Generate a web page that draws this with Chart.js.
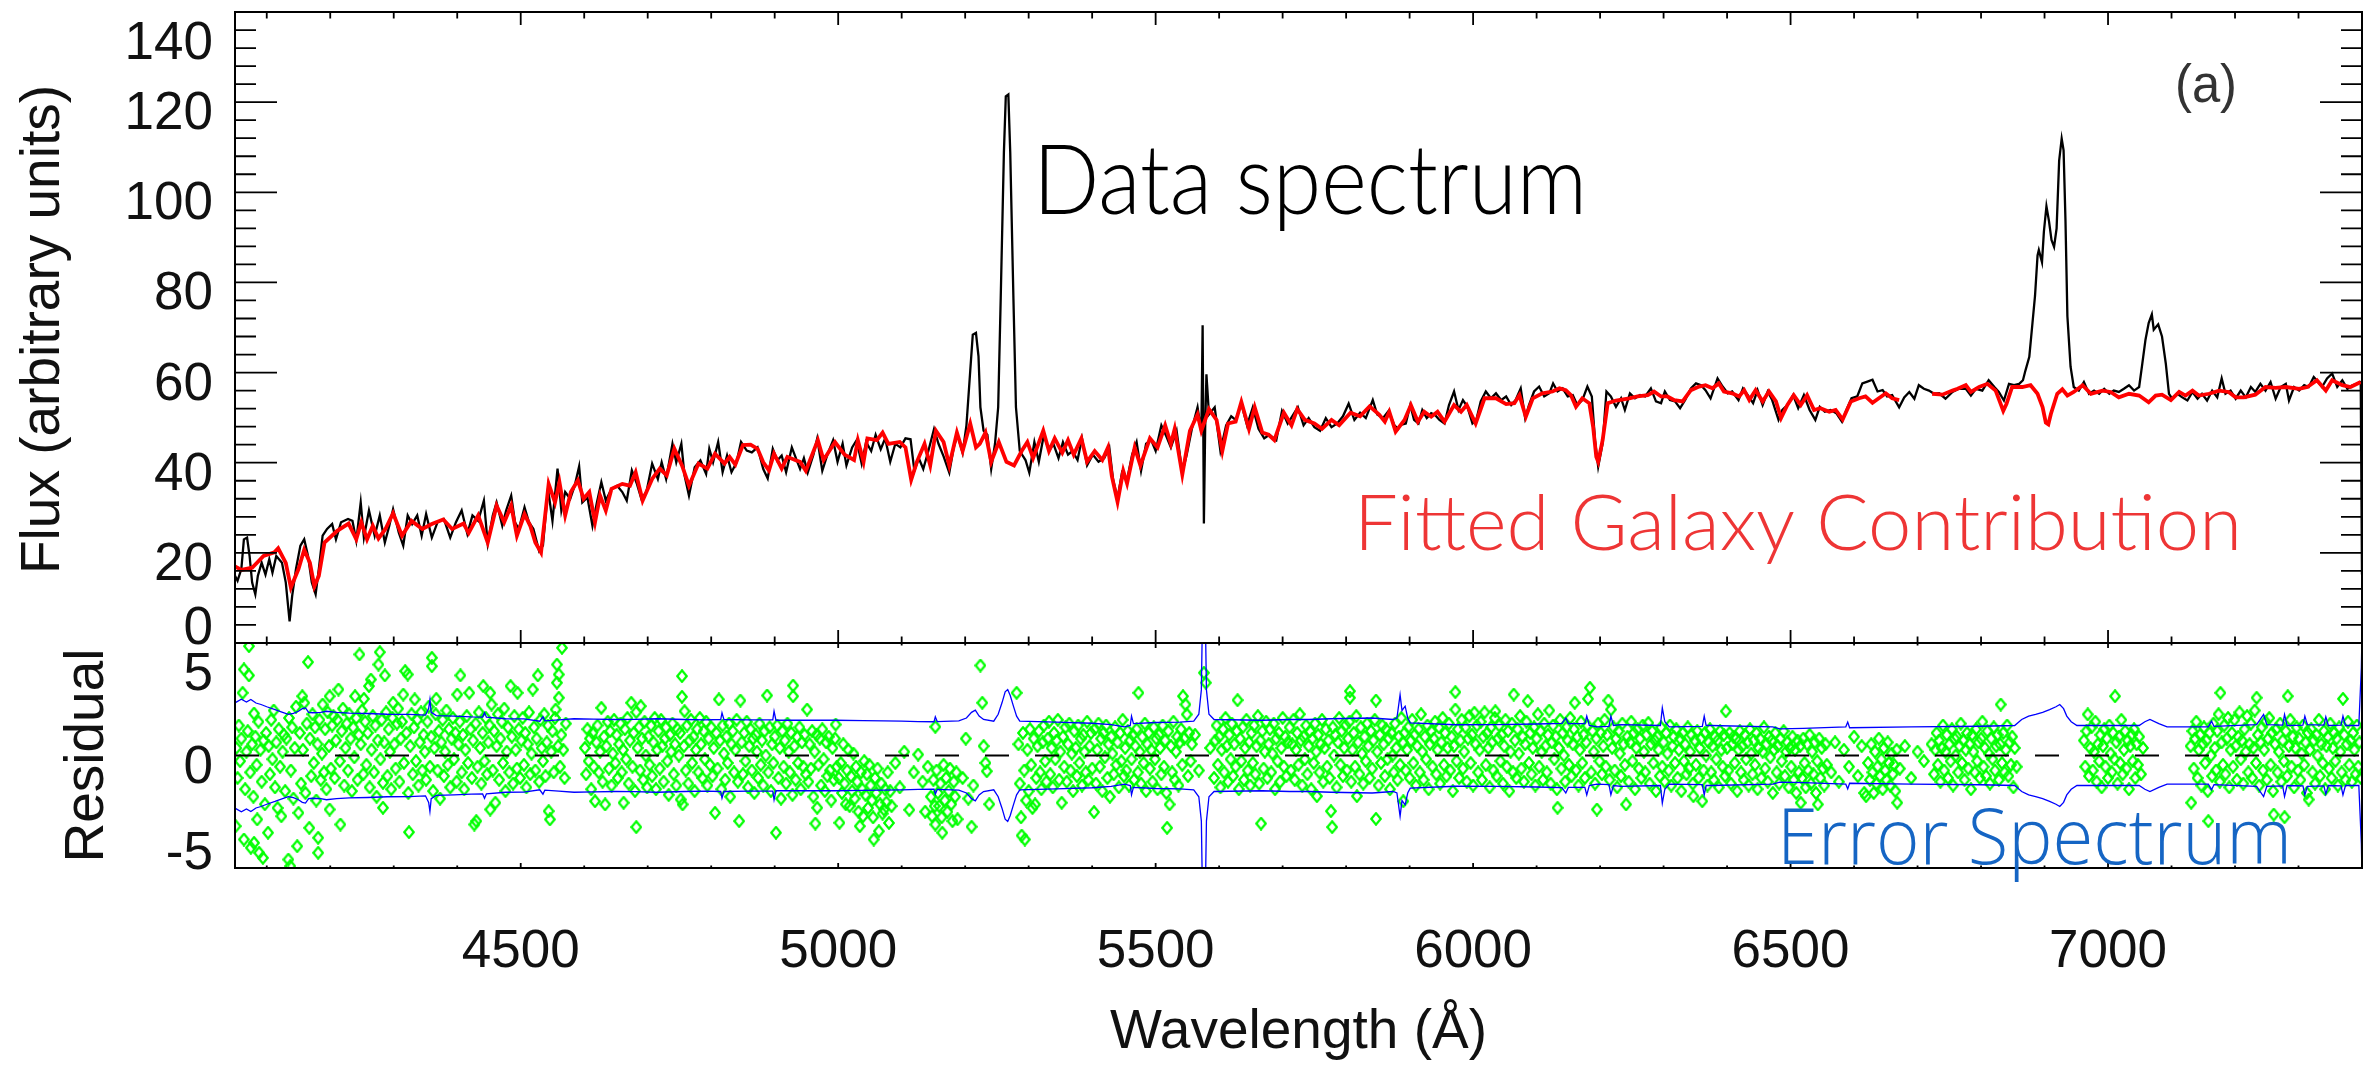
<!DOCTYPE html>
<html>
<head>
<meta charset="utf-8">
<title>Spectrum fit</title>
<script src="https://cdn.jsdelivr.net/npm/chart.js@4.4.1/dist/chart.umd.min.js"></script>
<style>
  html, body { margin: 0; padding: 0; background: #fff; }
  #wrap { width: 2374px; height: 1066px; position: relative; }
</style>
</head>
<body>
<div id="wrap"><canvas id="spec"></canvas></div>
<script>
// axis ranges and tick labels
const waveRange = [4050, 7400];
const fluxRange = [0, 140];
const residRange = [-6, 6];
const xTickLabels = [4500, 5000, 5500, 6000, 6500, 7000];
const fluxTickLabels = [0, 20, 40, 60, 80, 100, 120, 140];
const residTickLabels = [-5, 0, 5];

// observed spectrum [wavelength, flux]
const dataSpectrum = [
  [4050,14.9],[4054,13.8],[4060,16.4],[4064,23],[4069,23.4],[4073,19.3],[4077,13.4],[4082,10.8],[4086,14.9],[4092,17.8],
  [4098,15.2],[4104,18.6],[4109,15.6],[4115,19.3],[4124,17.8],[4130,13.4],[4136,4.8],[4140,10.4],[4146,16.4],[4153,21.6],
  [4159,23],[4165,19.3],[4171,13.4],[4177,10.8],[4182,16.4],[4188,23.8],[4195,25.3],[4203,26.4],[4209,23],[4217,26.8],
  [4228,27.5],[4235,27.1],[4241,22.7],[4248,31.2],[4253,23.4],[4261,29.4],[4270,23.8],[4278,28.3],[4286,22.3],[4293,26],
  [4299,29.7],[4308,24.5],[4315,21.6],[4322,28.3],[4329,26.4],[4337,28.3],[4344,23.8],[4351,28.6],[4360,23.4],[4369,26.8],
  [4379,27.5],[4389,23.4],[4398,26.8],[4407,29.4],[4416,24.2],[4424,28.3],[4433,27.1],[4442,31.6],[4448,22.1],[4456,28.3],
  [4462,31.2],[4471,26],[4477,29.4],[4485,32.7],[4491,26.8],[4497,25.3],[4506,30.1],[4513,26.8],[4520,25.3],[4529,20.4],
  [4535,21.6],[4543,34.2],[4550,27.1],[4558,38.7],[4564,29.4],[4570,33.5],[4578,32],[4585,34.9],[4592,39.2],[4597,31.2],
  [4605,32.3],[4613,26],[4620,31.2],[4627,35.7],[4634,31.6],[4643,34.2],[4652,34.9],[4660,33.5],[4667,31.6],[4675,38.3],
  [4683,35.3],[4690,32],[4698,33.5],[4707,39.8],[4716,36.4],[4722,40.1],[4729,36.4],[4739,44.2],[4745,40.1],[4753,44.2],
  [4758,37.2],[4765,32.7],[4774,39],[4783,40.5],[4792,37.5],[4797,43.1],[4803,40.1],[4811,44.6],[4818,37.9],[4825,41.6],
  [4832,37.9],[4840,40.1],[4847,44.6],[4856,42.7],[4864,42.3],[4873,43.4],[4882,38.6],[4889,36.5],[4897,43.1],[4904,40.5],
  [4911,41.6],[4918,37.9],[4927,43.4],[4934,40.8],[4940,38.6],[4946,41],[4952,37.8],[4961,41.8],[4967,45.4],[4975,38.2],
  [4983,41.8],[4992,45],[4999,40.2],[5007,44.2],[5013,39.4],[5022,43.4],[5029,45],[5037,39.8],[5044,44.6],[5052,42.6],
  [5059,46.2],[5067,43],[5074,45.4],[5082,40.2],[5090,44.2],[5098,43.4],[5106,45.4],[5114,45.2],[5120,38.2],[5127,41],
  [5134,38.6],[5142,42.6],[5151,47.5],[5158,44.2],[5166,41.4],[5175,37.8],[5182,43.4],[5188,46.2],[5196,42.2],[5202,48.3],
  [5208,60.4],[5212,68.4],[5217,68.8],[5221,63.6],[5224,52.3],[5229,47.1],[5235,46.2],[5241,38.6],[5247,44.2],[5252,52.3],
  [5256,76.5],[5261,108.8],[5264,121.3],[5268,121.7],[5271,108.8],[5276,76.5],[5280,52.3],[5286,42.6],[5295,40.6],[5301,37.8],
  [5309,44.6],[5316,40.2],[5324,46.2],[5332,42.6],[5339,44.2],[5347,41],[5354,44.6],[5362,41.8],[5369,42.6],[5377,40.6],
  [5384,45.4],[5392,39.4],[5401,41.8],[5410,40.2],[5419,41],[5427,43.4],[5433,36.2],[5440,32.1],[5447,37.8],[5455,36.2],
  [5463,41.8],[5470,44.6],[5477,38.2],[5485,44.2],[5493,45],[5500,42.6],[5509,48.3],[5517,45.8],[5524,43.4],[5533,47.1],
  [5542,37.8],[5549,41.8],[5557,47.5],[5566,52.3],[5572,46.7],[5574,70.5],[5576,26.5],[5578,47.5],[5580,59.6],[5584,50.7],
  [5593,52.3],[5602,42.6],[5611,48.3],[5619,50.3],[5626,49.5],[5635,53.1],[5644,48.3],[5653,52.3],[5662,47.5],[5671,45.4],
  [5679,46.2],[5690,45],[5699,51.5],[5708,48.7],[5717,50.7],[5724,52.3],[5733,48.3],[5741,49.9],[5750,47.9],[5759,47.1],
  [5768,49.9],[5777,47.9],[5786,48.7],[5795,50.3],[5804,53.1],[5813,49.5],[5822,51.1],[5831,49.9],[5842,53.9],[5849,50.7],
  [5858,49.9],[5867,51.5],[5876,48.3],[5882,47.5],[5886,48.4],[5894,48.7],[5901,52.8],[5907,49.5],[5914,48.7],[5920,51.7],
  [5927,49.9],[5934,51],[5940,50.6],[5947,49.5],[5955,48.7],[5962,52.8],[5970,55.8],[5977,51.7],[5984,53.9],[5991,52.4],
  [5999,48.7],[6005,49.5],[6012,53.6],[6020,55.8],[6028,54.3],[6036,55.4],[6044,53.9],[6052,54.7],[6060,52.8],[6067,53.9],
  [6075,56.5],[6082,49.9],[6088,52.8],[6096,55.8],[6104,56.9],[6112,54.7],[6120,55.4],[6126,57.6],[6133,55.8],[6141,56.5],
  [6149,54.7],[6157,55],[6164,52.8],[6172,53.9],[6180,56.9],[6187,54.7],[6192,45],[6197,39.1],[6204,44.3],[6210,55.8],
  [6217,54.7],[6225,52.4],[6233,54.3],[6239,51.7],[6247,55.4],[6255,54.3],[6263,55],[6271,54.7],[6280,56.5],[6288,53.6],
  [6296,53.2],[6302,55.8],[6310,53.9],[6318,53.6],[6326,52.1],[6334,53.9],[6343,56.5],[6351,57.6],[6359,57.2],[6366,56.1],
  [6374,54.3],[6385,58.7],[6393,56.9],[6401,55.4],[6408,55.8],[6418,53.9],[6425,56.5],[6434,54.7],[6441,53.2],[6448,56.1],
  [6456,52.8],[6464,55.8],[6471,53.9],[6481,49.5],[6487,51.7],[6495,52.8],[6504,55],[6512,52.1],[6521,55],[6530,51.7],
  [6539,49.5],[6546,52.4],[6554,51.3],[6563,51.7],[6572,51],[6581,49.1],[6588,51.7],[6596,54.3],[6605,54.7],[6613,57.6],
  [6621,58],[6629,58.4],[6637,55.8],[6645,56.1],[6652,54.7],[6660,55],[6671,52.3],[6679,54.5],[6687,55.7],[6695,54.2],
  [6702,57.2],[6710,56.4],[6718,56],[6726,55.3],[6734,55.4],[6744,54.2],[6755,55.7],[6765,56.4],[6776,56.4],[6784,54.9],
  [6792,56.4],[6802,56],[6812,58.3],[6821,56.8],[6828,55.7],[6836,53.8],[6844,57.5],[6852,57.2],[6860,57.5],[6866,58.3],
  [6870,60.5],[6876,63.5],[6881,71],[6885,77],[6889,86],[6891,87.2],[6896,84.5],[6899,91.3],[6903,96.9],[6907,93.6],
  [6911,89.4],[6915,87.9],[6919,92],[6923,107],[6927,111.9],[6930,109.3],[6933,93.6],[6936,72.5],[6941,61.3],[6946,56.8],
  [6954,56],[6962,57.9],[6970,55.3],[6978,56],[6986,55.3],[6994,56.4],[7002,55.3],[7009,56],[7017,55.7],[7025,56.4],
  [7033,57.2],[7041,56],[7049,56.8],[7054,62],[7059,67.3],[7064,71],[7069,72.9],[7072,69.5],[7079,70.7],[7085,68],
  [7091,62],[7096,55.3],[7101,54.2],[7109,55.3],[7117,54.5],[7125,53.8],[7133,55.7],[7141,54.2],[7148,55.3],[7156,53.8],
  [7164,56],[7172,54.5],[7179,58.7],[7185,55.3],[7193,56],[7201,54.2],[7209,56],[7217,54.5],[7225,56.8],[7232,55.7],
  [7240,57.5],[7248,56],[7256,57.9],[7264,54.2],[7272,56.8],[7280,57.5],[7285,53.8],[7293,56.8],[7301,56],[7309,57.2],
  [7316,56.8],[7324,59],[7331,57.9],[7337,56.8],[7345,58.7],[7353,59.8],[7361,56.8],[7369,58.3],[7377,56.4],[7385,57.2],
  [7392,57.5],[7398,57.9],[7400,15.2]
];

// fitted galaxy model [wavelength, flux]; null marks the unfitted stretch
const galaxyModel = [
  [4050,17],[4060,16.2],[4077,16.7],[4095,19.3],[4112,20.1],[4118,21],[4130,17.8],[4138,12.3],[4150,16.4],[4159,20.7],
  [4168,17.8],[4175,12.6],[4182,14.9],[4191,22.3],[4211,24.9],[4229,26.5],[4241,23],[4249,26.8],[4258,23],[4267,26],
  [4276,23.2],[4287,25.3],[4299,28.8],[4313,23.8],[4328,27.1],[4345,25.3],[4360,26.4],[4378,27.4],[4392,25.3],[4410,26.5],
  [4418,24.4],[4433,28.3],[4448,22.3],[4462,30.5],[4474,26.8],[4485,30.5],[4494,23.8],[4506,28.6],[4515,26],[4523,22.3],
  [4532,20.1],[4544,35.3],[4554,31.2],[4561,35.7],[4570,28.3],[4579,33.5],[4590,36.1],[4599,32],[4608,33.5],[4617,26.8],
  [4625,32.7],[4634,29.4],[4643,34.2],[4660,35.3],[4672,34.9],[4681,37.9],[4692,31.6],[4707,36.4],[4719,38.7],[4730,37.2],
  [4742,43.1],[4754,39.4],[4765,34.9],[4780,39.8],[4794,38.7],[4806,42],[4821,39.8],[4829,41.3],[4838,39.6],[4850,43.9],
  [4862,44],[4873,43.1],[4882,40.1],[4891,38.3],[4899,42],[4911,38.7],[4920,41.3],[4934,40.5],[4940,40.2],[4949,38.2],
  [4968,45],[4977,40.6],[4995,44.6],[5010,41.8],[5025,40.6],[5031,45],[5040,40.2],[5046,45.4],[5061,45],[5070,46.7],
  [5079,44.2],[5097,44.6],[5106,43.4],[5115,36.2],[5124,40.2],[5136,44.2],[5145,39.4],[5154,47.1],[5166,44.6],[5175,39.4],
  [5187,46.7],[5196,42.6],[5208,48.7],[5217,43.4],[5223,44.2],[5232,46.7],[5241,40.2],[5253,44.6],[5265,40.2],[5277,39.4],
  [5289,42.6],[5298,44.6],[5307,41],[5323,47.1],[5332,42.6],[5341,45.4],[5353,42.2],[5362,45],[5371,41.8],[5383,45.4],
  [5392,40.2],[5404,42.6],[5416,40.6],[5425,43.4],[5431,37],[5440,31.3],[5449,38.2],[5455,35.4],[5467,43.4],[5476,39.4],
  [5491,45.4],[5503,43.4],[5515,48.3],[5524,44.2],[5530,47.5],[5542,37.4],[5554,47.1],[5566,50.7],[5572,47.1],[5584,51.9],
  [5596,49.5],[5605,42.6],[5614,48.7],[5626,49.1],[5635,53.5],[5647,47.5],[5656,52.3],[5668,46.7],[5678,46.2],[5687,45],
  [5702,51.1],[5714,48.3],[5723,51.9],[5735,49.5],[5750,48.7],[5762,47.5],[5777,49.5],[5789,48.3],[5807,51.1],[5822,50.3],
  [5837,52.5],[5852,50.7],[5861,49.1],[5868,51.3],[5878,46.9],[5892,49.5],[5902,52.8],[5913,49.1],[5923,51.3],[5934,50.2],
  [5944,51.3],[5955,49.1],[5970,52.8],[5981,51.3],[5990,52.8],[6004,48.7],[6018,54.3],[6036,54.3],[6052,53],[6065,53.2],
  [6073,55],[6083,50.2],[6094,54.3],[6109,55.4],[6125,55.8],[6136,56.5],[6146,56.1],[6154,55],[6162,52.4],[6172,54.3],
  [6183,53.2],[6189,48],[6194,41.3],[6197,40.2],[6204,45],[6212,53.2],[6225,53.8],[6246,54.3],[6259,54.7],[6275,55],
  [6285,55.8],[6296,54.7],[6306,54.7],[6317,53.9],[6330,53.6],[6343,56.1],[6356,56.9],[6366,57.2],[6377,56.5],[6387,57.6],
  [6395,55.8],[6408,55.4],[6419,54.7],[6427,56.1],[6435,53.9],[6445,56.1],[6456,53.6],[6466,55.8],[6477,53.6],[6485,49.9],
  [6495,52.8],[6505,55],[6516,52.8],[6526,55],[6537,51.7],[6547,52.1],[6561,51.3],[6571,51.7],[6582,49.6],[6595,53.6],
  [6608,54.3],[6618,54.7],[6629,53.3],[6639,54.3],[6650,55.4],[6660,54.3],[6671,53.9],[6697,null],[6723,55.3],[6739,55.1],
  [6755,56],[6763,56.4],[6776,57.2],[6784,55.7],[6797,56.8],[6810,57.5],[6823,56],[6831,53],[6835,51.5],[6840,53],
  [6849,56.8],[6865,56.8],[6878,57.2],[6889,55.3],[6897,52.3],[6902,48.9],[6906,48.5],[6910,50.8],[6920,55.3],[6928,56.3],
  [6936,54.9],[6946,55.7],[6960,57.2],[6973,55.3],[6991,56],[7004,55.7],[7017,54.5],[7033,55.3],[7049,54.9],[7064,53.4],
  [7075,54.9],[7085,55.1],[7099,53.9],[7112,55.7],[7122,54.9],[7133,56],[7143,54.9],[7159,55.3],[7175,56],[7190,55.7],
  [7201,54.5],[7214,54.5],[7232,55.1],[7248,56.8],[7264,56.6],[7280,56.8],[7301,56.4],[7314,56.8],[7329,58.3],[7343,56],
  [7353,58.3],[7369,57.2],[7382,56.8],[7398,57.9]
];

// 1-sigma error spectrum [wavelength, sigma], drawn as +/- envelope
const errorSpectrum = [
  [4050,2.81],[4060,3.0],[4068,2.85],[4075,2.99],[4083,2.8],[4091,2.72],[4100,2.6],[4113,2.45],[4125,2.3],[4134,2.19],
  [4142,2.25],[4150,2.36],[4156,2.5],[4161,2.54],[4166,2.3],[4172,2.28],[4185,2.3],[4194,2.36],[4210,2.3],[4230,2.26],
  [4259,2.24],[4290,2.2],[4324,2.19],[4350,2.15],[4355,2.5],[4357,2.99],[4359,2.3],[4367,2.13],[4395,2.1],[4422,2.06],
  [4440,2.05],[4443,2.28],[4446,2.04],[4476,1.96],[4505,1.95],[4530,1.83],[4535,2.06],[4538,1.85],[4560,1.9],[4584,1.96],
  [4615,1.94],[4649,1.92],[4680,1.93],[4714,1.96],[4758,1.92],[4790,1.9],[4815,1.92],[4817,2.28],[4820,1.92],[4860,1.9],
  [4897,1.9],[4899,2.36],[4902,1.88],[4950,1.88],[4996,1.88],[5040,1.86],[5072,1.85],[5100,1.83],[5126,1.81],[5151,1.8],
  [5153,2.06],[5156,1.81],[5190,1.85],[5202,2.0],[5210,2.3],[5216,2.42],[5222,2.1],[5229,1.92],[5245,1.83],[5252,2.2],
  [5258,2.81],[5263,3.4],[5267,3.52],[5271,3.2],[5276,2.63],[5281,2.1],[5286,1.83],[5343,1.78],[5400,1.72],[5430,1.65],
  [5451,1.53],[5460,1.6],[5462,2.1],[5465,1.7],[5500,1.76],[5538,1.78],[5560,1.83],[5568,2.2],[5572,3.5],[5574,8],
  [5578,8],[5580,3.5],[5584,2.2],[5592,1.92],[5668,1.88],[5711,1.92],[5742,1.92],[5776,1.96],[5841,2.0],[5874,1.92],
  [5880,2.0],[5885,3.25],[5888,2.4],[5893,2.63],[5897,2.0],[5901,1.74],[5972,1.64],[6037,1.65],[6100,1.68],[6140,1.71],
  [6146,2.0],[6150,1.7],[6176,1.7],[6179,2.1],[6183,1.6],[6195,1.53],[6214,1.55],[6217,2.1],[6221,1.6],[6233,1.65],
  [6295,1.6],[6298,2.54],[6302,1.8],[6309,1.53],[6361,1.55],[6364,2.1],[6367,1.6],[6374,1.6],[6472,1.53],[6483,1.42],
  [6520,1.45],[6587,1.53],[6590,1.78],[6593,1.48],[6690,1.53],[6799,1.56],[6853,1.6],[6864,1.92],[6875,2.1],[6886,2.19],
  [6897,2.3],[6908,2.45],[6918,2.6],[6924,2.72],[6930,2.5],[6935,2.1],[6942,1.8],[6951,1.6],[7049,1.6],[7058,1.8],
  [7066,1.92],[7080,1.7],[7093,1.53],[7158,1.53],[7163,1.83],[7167,1.55],[7234,1.65],[7245,2.19],[7250,1.65],[7275,1.62],
  [7278,2.19],[7282,1.6],[7307,1.62],[7310,2.1],[7314,1.65],[7340,1.62],[7343,2.06],[7347,1.6],[7367,1.62],[7370,2.1],
  [7374,1.6],[7395,1.6],[7399,4.7],[7400,6.5]
];

// fit residuals [wavelength, residual]
const residuals = [
  [4051,-3.77],[4052,0.4],[4054,-1.2],[4056,1.6],[4058,-0.3],[4060,0.9],[4062,3.34],[4064,4.59],[4064,-4.48],[4066,-1.8],
  [4068,0.2],[4070,1.3],[4072,5.83],[4072,4.27],[4074,-0.9],[4075,-4.92],[4077,0.6],[4079,-2.2],[4080,2.24],[4080,-4.66],
  [4082,1.0],[4084,-0.5],[4085,-3.41],[4087,1.8],[4088,-5.19],[4090,0.3],[4092,-1.4],[4094,-5.46],[4095,0.8],[4097,-2.6],
  [4099,1.2],[4102,-4.12],[4103,0.5],[4105,-1.0],[4107,1.9],[4109,-0.2],[4111,2.4],[4113,-1.7],[4115,0.7],[4117,-2.8],
  [4119,1.4],[4121,-0.6],[4123,-3.24],[4125,0.2],[4127,1.1],[4129,-1.9],[4131,0.9],[4134,-5.55],[4135,2.0],[4137,-5.9],
  [4138,-0.8],[4140,1.5],[4142,-2.3],[4144,0.4],[4146,2.6],[4148,-4.84],[4150,-3.06],[4152,1.2],[4154,-1.5],[4156,3.16],
  [4157,0.3],[4159,2.81],[4161,-2.0],[4163,1.7],[4165,4.98],[4167,-3.86],[4168,0.9],[4170,-1.1],[4172,2.2],[4174,-0.4],
  [4176,1.5],[4178,-2.4],[4180,0.6],[4181,-5.19],[4181,-4.39],[4183,1.9],[4185,-1.3],[4187,0.1],[4188,2.72],[4190,-0.9],
  [4192,1.4],[4194,-1.8],[4196,2.3],[4198,0.5],[4199,3.16],[4199,-2.88],[4201,-0.7],[4203,1.6],[4205,2.1],[4207,-1.2],
  [4209,0.8],[4211,1.9],[4213,3.52],[4215,-0.3],[4216,-3.68],[4218,1.3],[4220,2.5],[4222,-1.6],[4224,0.4],[4226,1.7],
  [4228,-0.8],[4230,2.2],[4232,0.9],[4234,-1.9],[4236,1.5],[4238,-0.1],[4239,3.16],[4241,2.0],[4243,-1.3],[4245,1.1],
  [4246,5.39],[4248,0.6],[4250,2.4],[4252,-1.0],[4253,3.02],[4255,1.8],[4257,-0.5],[4259,1.2],[4261,3.7],[4262,-1.7],
  [4264,4.05],[4265,0.3],[4267,2.1],[4269,-0.9],[4271,1.6],[4273,-2.2],[4275,0.8],[4276,4.85],[4278,5.51],[4279,-0.2],
  [4281,1.9],[4283,-2.79],[4283,-1.46],[4285,0.7],[4286,4.27],[4288,2.3],[4290,-1.1],[4292,1.4],[4294,0.2],[4296,-1.8],
  [4298,2.0],[4299,2.81],[4301,0.6],[4303,-0.7],[4305,1.7],[4307,2.5],[4309,-1.4],[4311,0.9],[4313,1.8],[4315,3.25],
  [4316,-0.4],[4318,4.5],[4320,1.2],[4322,4.32],[4323,-2.0],[4324,-4.09],[4326,0.5],[4328,2.2],[4330,-1.0],[4332,1.5],
  [4333,2.99],[4335,-0.3],[4337,1.9],[4339,-1.6],[4341,0.7],[4343,2.3],[4345,-0.8],[4347,1.1],[4349,0.2],[4351,-1.3],
  [4353,1.8],[4355,2.6],[4357,-0.6],[4359,1.0],[4360,5.21],[4360,4.76],[4362,-1.9],[4364,0.4],[4366,2.2],[4367,3.02],
  [4369,-0.8],[4371,1.3],[4373,-2.3],[4375,0.7],[4377,1.9],[4379,-1.1],[4381,0.2],[4383,2.4],[4385,-0.5],[4387,1.4],
  [4389,-1.7],[4391,0.9],[4393,2.0],[4395,-0.2],[4397,1.2],[4399,-1.4],[4400,3.25],[4402,0.6],[4404,1.8],[4405,4.27],
  [4407,-0.9],[4409,1.1],[4411,-1.8],[4413,0.3],[4415,2.1],[4417,-0.4],[4419,3.34],[4421,1.4],[4423,-1.2],[4425,0.8],
  [4427,-3.68],[4429,1.7],[4430,-3.5],[4432,-0.6],[4434,2.3],[4436,0.4],[4438,-1.5],[4440,1.2],[4441,3.7],[4443,-0.3],
  [4445,2.0],[4447,-1.0],[4449,0.7],[4451,1.6],[4452,3.34],[4452,-2.88],[4454,2.72],[4456,-0.8],[4458,1.3],[4460,-2.52],
  [4462,0.5],[4464,2.2],[4466,-1.3],[4468,0.9],[4470,1.8],[4472,-0.4],[4474,2.5],[4476,-1.9],[4478,0.2],[4480,1.5],
  [4482,-0.9],[4484,3.7],[4486,1.0],[4488,-1.5],[4490,2.1],[4492,0.3],[4494,-0.7],[4495,3.34],[4497,1.4],[4499,-1.2],
  [4501,0.8],[4503,2.0],[4505,-0.5],[4507,1.2],[4509,-1.7],[4511,0.6],[4513,2.3],[4515,-1.0],[4517,0.1],[4519,3.52],
  [4521,1.5],[4523,-0.8],[4525,0.9],[4527,4.27],[4529,-1.4],[4531,1.9],[4533,0.4],[4535,-0.3],[4537,2.2],[4539,-1.1],
  [4541,0.7],[4543,1.6],[4544,-2.97],[4546,-3.41],[4548,0.2],[4550,1.3],[4552,-0.9],[4554,2.0],[4555,2.45],[4557,4.85],
  [4557,3.88],[4559,0.5],[4560,4.32],[4560,3.08],[4562,-0.6],[4564,1.1],[4565,5.74],[4567,0.3],[4569,-1.2],[4571,1.7],
  [4601,0.4],[4603,-1.0],[4605,1.4],[4607,-0.3],[4609,0.9],[4611,-1.8],[4613,1.2],[4615,-0.6],[4617,-2.44],[4619,0.7],
  [4621,1.6],[4623,-0.9],[4625,0.2],[4627,2.54],[4629,-1.4],[4631,1.0],[4633,-2.61],[4635,0.5],[4637,1.8],[4639,-0.7],
  [4641,1.3],[4643,-1.6],[4645,0.1],[4647,1.9],[4649,-0.4],[4651,1.1],[4653,-1.2],[4655,0.6],[4657,1.7],[4659,-0.9],
  [4661,0.3],[4662,-2.52],[4664,1.4],[4666,-0.2],[4668,2.0],[4670,-1.5],[4672,0.8],[4674,2.81],[4676,-0.6],[4678,1.2],
  [4680,-1.9],[4682,2.31],[4682,-3.82],[4684,0.4],[4686,1.5],[4688,-0.8],[4689,2.63],[4691,0.9],[4693,-1.3],[4695,1.8],
  [4697,0.0],[4699,-1.7],[4701,1.0],[4703,-0.5],[4705,1.6],[4707,-1.1],[4709,0.7],[4711,2.0],[4713,-1.8],[4715,0.3],
  [4717,1.3],[4719,-0.7],[4721,1.9],[4723,0.5],[4725,-1.4],[4727,0.9],[4729,1.5],[4731,-0.3],[4733,-2.1],[4735,1.1],
  [4737,0.2],[4739,1.7],[4741,-1.0],[4743,0.6],[4745,-1.6],[4747,1.4],[4749,0.0],[4751,1.2],[4752,-2.35],[4754,4.23],
  [4754,3.13],[4755,-2.61],[4757,0.5],[4758,2.36],[4760,-0.8],[4762,1.6],[4764,-1.5],[4766,0.8],[4768,1.9],[4770,-0.4],
  [4772,1.0],[4774,-1.9],[4776,0.3],[4778,1.4],[4780,-0.9],[4782,2.0],[4784,0.6],[4786,-1.2],[4788,1.3],[4790,-0.2],
  [4792,1.8],[4794,-1.6],[4796,0.9],[4798,-0.5],[4800,1.5],[4802,-1.1],[4804,0.4],[4806,-3.06],[4808,1.2],[4810,-0.7],
  [4812,2.99],[4814,0.8],[4816,-1.8],[4818,1.6],[4820,0.1],[4822,-1.3],[4824,1.0],[4826,-0.4],[4828,1.7],[4830,-2.2],
  [4832,0.6],[4834,1.3],[4836,-0.9],[4838,0.3],[4840,1.9],[4842,-1.4],[4844,-3.5],[4846,2.93],[4848,0.7],[4850,-1.0],
  [4852,1.2],[4854,-0.3],[4856,1.8],[4858,-1.7],[4860,0.5],[4862,1.4],[4864,-0.8],[4866,0.9],[4868,-2.0],[4870,1.1],
  [4872,0.2],[4874,-1.2],[4876,1.7],[4878,-0.5],[4880,0.8],[4882,-1.6],[4884,1.3],[4886,0.0],[4888,3.2],[4890,-0.9],
  [4892,1.5],[4894,-1.9],[4896,0.6],[4898,-0.4],[4900,1.0],[4902,-4.12],[4904,1.6],[4906,-1.2],[4908,0.4],[4910,-2.3],
  [4912,1.3],[4914,-0.6],[4916,0.8],[4918,-1.5],[4920,1.7],[4922,0.2],[4924,-0.9],[4926,1.2],[4928,-2.1],[4929,3.73],
  [4929,3.16],[4931,0.5],[4933,-1.3],[4935,1.0],[4937,-0.4],[4939,1.5],[4941,-1.8],[4943,0.7],[4945,-0.6],[4947,1.1],
  [4949,-1.0],[4951,2.45],[4953,-1.4],[4955,0.6],[4957,-0.7],[4959,1.3],[4961,-2.2],[4963,0.2],[4964,-3.63],[4966,1.1],
  [4967,-2.79],[4969,-0.5],[4971,0.9],[4973,-1.6],[4975,1.4],[4977,-0.2],[4979,-1.9],[4981,0.7],[4983,-1.1],[4985,1.0],
  [4987,-0.8],[4989,-2.4],[4991,0.4],[4993,-1.3],[4995,0.9],[4996,1.65],[4998,-0.6],[5001,-1.2],[5002,-3.59],[5004,-0.4],
  [5006,-2.0],[5008,0.6],[5010,-1.5],[5012,-2.6],[5014,-0.8],[5016,0.3],[5018,-2.7],[5020,-1.1],[5022,-1.9],[5024,0.1],
  [5026,-2.3],[5028,-0.6],[5030,-1.4],[5032,-3.0],[5034,-3.77],[5036,-0.9],[5038,-1.8],[5039,-3.24],[5041,-0.3],[5043,-2.1],
  [5045,-1.0],[5047,-2.8],[5049,-0.5],[5051,-1.6],[5053,-2.4],[5055,-3.3],[5056,-4.48],[5058,-1.2],[5060,-2.0],[5062,-0.7],
  [5064,-4.04],[5066,-2.6],[5068,-1.5],[5070,-3.1],[5072,-2.88],[5074,-1.8],[5076,-2.5],[5078,-0.9],[5080,-3.6],[5082,-1.9],
  [5084,-2.7],[5090,-0.4],[5097,-1.7],[5104,0.2],[5112,-2.9],[5119,-0.9],[5126,0.05],[5133,-1.4],[5137,-3.0],[5141,-0.6],
  [5146,-2.2],[5148,-3.24],[5150,-1.3],[5152,-2.7],[5153,-3.68],[5153,1.53],[5155,-0.8],[5157,-2.0],[5159,-2.7],[5161,-1.5],
  [5163,-3.3],[5164,-4.12],[5166,-0.5],[5168,-2.4],[5170,-1.2],[5172,-3.0],[5174,-1.9],[5176,-0.7],[5178,-2.6],[5180,-3.5],
  [5182,-1.4],[5184,-2.2],[5186,-0.9],[5188,-3.4],[5196,-1.2],[5201,0.9],[5205,-2.3],[5210,-3.8],[5213,-1.6],[5224,4.8],
  [5227,2.81],[5229,0.5],[5232,-0.4],[5234,-0.84],[5238,-2.6],[5281,3.34],[5284,0.6],[5286,-1.5],[5288,-3.3],[5289,-4.27],
  [5291,1.2],[5293,-0.8],[5294,-4.48],[5296,-2.4],[5298,0.3],[5300,-1.9],[5302,1.4],[5304,-0.5],[5306,-2.8],[5308,0.9],
  [5310,-2.61],[5312,-1.2],[5314,0.5],[5316,1.3],[5318,-0.9],[5320,-1.8],[5322,0.7],[5324,1.6],[5326,-0.3],[5328,-1.4],
  [5330,0.9],[5332,1.8],[5334,-1.0],[5336,0.4],[5338,-1.7],[5340,1.2],[5342,-0.2],[5344,0.8],[5346,1.9],[5348,-1.3],
  [5350,0.2],[5352,-2.52],[5354,1.0],[5356,-0.6],[5358,1.5],[5360,-1.4],[5362,0.6],[5364,1.7],[5366,-0.8],[5368,0.1],
  [5370,-1.9],[5372,1.3],[5374,0.4],[5376,-1.1],[5378,1.6],[5380,-0.4],[5382,0.9],[5384,-1.6],[5386,1.1],[5388,0.2],
  [5390,-0.9],[5392,1.8],[5394,-1.3],[5396,0.5],[5398,1.2],[5400,-0.7],[5403,-3.02],[5404,1.4],[5406,-1.5],[5408,0.3],
  [5410,1.7],[5412,-0.6],[5414,0.9],[5416,-1.9],[5418,1.2],[5420,-0.1],[5422,1.6],[5424,-1.2],[5426,0.6],[5428,-2.2],
  [5430,1.0],[5432,0.1],[5434,-1.0],[5436,1.5],[5438,-0.5],[5440,0.7],[5442,-1.7],[5444,1.2],[5446,-0.3],[5448,1.9],
  [5450,-1.1],[5452,0.4],[5454,-0.8],[5456,1.3],[5458,-1.6],[5460,0.8],[5462,-0.2],[5464,1.1],[5466,-1.3],[5468,0.5],
  [5470,1.4],[5472,-0.9],[5473,3.34],[5475,0.2],[5477,-1.5],[5479,1.0],[5481,-0.4],[5483,1.7],[5485,-1.9],[5487,0.6],
  [5489,1.2],[5491,-0.7],[5493,0.3],[5495,-1.4],[5497,1.5],[5499,-0.2],[5501,0.9],[5503,-1.8],[5505,1.1],[5507,0.4],
  [5509,-1.0],[5511,1.6],[5513,-0.6],[5515,0.8],[5517,-2.0],[5518,-3.86],[5520,1.3],[5522,-2.61],[5524,0.5],[5526,-0.9],
  [5528,1.8],[5530,-1.3],[5532,0.2],[5534,1.0],[5536,-1.6],[5538,0.7],[5540,1.4],[5542,-0.5],[5543,3.16],[5545,0.9],
  [5547,2.72],[5549,2.19],[5551,-1.1],[5553,1.2],[5555,-0.3],[5557,0.6],[5562,1.1],[5568,-0.8],[5576,4.41],[5579,3.88],
  [5586,0.4],[5592,-1.2],[5594,0.8],[5596,1.6],[5598,-0.5],[5600,1.0],[5602,-1.7],[5604,0.3],[5606,1.4],[5608,-0.9],
  [5610,2.0],[5612,0.5],[5614,-1.4],[5616,1.1],[5618,-0.2],[5620,1.7],[5622,-1.1],[5624,0.6],[5626,-0.6],[5628,1.3],
  [5629,2.95],[5631,-1.8],[5633,0.9],[5635,-0.3],[5637,1.5],[5639,-1.3],[5641,0.4],[5643,1.9],[5645,-0.8],[5647,0.7],
  [5649,-1.6],[5651,1.2],[5653,-0.4],[5655,1.6],[5657,-1.0],[5659,0.5],[5661,2.1],[5663,-1.5],[5665,0.8],[5666,-3.63],
  [5668,1.3],[5670,-0.7],[5672,0.2],[5674,1.8],[5676,-1.2],[5678,0.6],[5680,1.4],[5682,-0.9],[5684,0.1],[5686,1.7],
  [5688,-1.8],[5690,0.9],[5692,-0.3],[5694,1.2],[5696,-1.4],[5698,0.4],[5700,2.0],[5702,-0.6],[5704,1.0],[5706,-1.1],
  [5708,0.7],[5711,1.5],[5713,-0.8],[5715,0.6],[5717,1.9],[5719,-1.3],[5721,0.3],[5723,1.2],[5725,-0.5],[5727,2.2],
  [5729,0.8],[5731,-1.6],[5733,1.0],[5735,-0.2],[5737,1.6],[5739,-1.0],[5741,0.5],[5743,1.3],[5745,-1.8],[5747,0.9],
  [5749,-0.4],[5751,1.7],[5753,0.2],[5754,-2.17],[5756,1.1],[5758,-0.9],[5760,0.6],[5762,1.9],[5764,-1.4],[5766,0.4],
  [5768,1.4],[5770,-0.6],[5772,0.8],[5774,-1.2],[5776,-2.97],[5778,-3.82],[5779,1.5],[5781,0.0],[5783,1.1],[5785,-1.7],
  [5787,0.7],[5789,2.0],[5791,-0.5],[5793,1.3],[5795,-1.1],[5797,0.4],[5799,1.6],[5801,-0.8],[5803,0.9],[5805,1.8],
  [5806,3.43],[5806,3.08],[5808,-1.4],[5810,0.3],[5812,1.2],[5814,-0.6],[5816,2.1],[5817,-2.17],[5819,0.7],[5821,-1.0],
  [5823,1.5],[5825,0.1],[5827,-1.5],[5829,1.0],[5831,-0.3],[5833,1.7],[5835,0.5],[5837,-1.2],[5839,1.3],[5841,-0.7],
  [5843,0.8],[5845,1.9],[5847,2.93],[5847,-3.38],[5849,0.2],[5851,-1.6],[5853,1.1],[5855,-0.4],[5857,1.6],[5859,0.6],
  [5861,-1.1],[5863,1.4],[5865,-0.2],[5867,0.9],[5869,-1.8],[5871,1.2],[5873,0.0],[5875,-0.9],[5877,1.7],[5879,0.4],
  [5881,-1.3],[5883,1.0],[5885,-0.5],[5887,2.0],[5889,0.7],[5890,-2.44],[5892,1.2],[5894,-0.8],[5896,0.3],[5898,1.5],
  [5900,-1.2],[5902,0.8],[5904,1.9],[5906,-0.4],[5908,1.1],[5910,-1.6],[5912,0.5],[5914,1.4],[5916,-0.9],[5918,2.2],
  [5920,0.2],[5922,-1.3],[5924,1.0],[5926,-0.2],[5928,1.6],[5930,-1.8],[5932,0.6],[5934,1.3],[5936,-0.6],[5938,0.9],
  [5940,1.8],[5942,-1.0],[5944,0.3],[5946,1.5],[5948,-1.5],[5950,0.7],[5952,2.0],[5954,-0.5],[5956,1.2],[5958,-1.1],
  [5960,0.4],[5962,1.7],[5964,-0.8],[5966,1.0],[5968,-1.9],[5970,0.5],[5972,3.38],[5972,2.45],[5974,-0.3],[5976,1.4],
  [5978,-1.2],[5980,0.8],[5982,1.9],[5984,-0.7],[5986,0.2],[5988,1.5],[5990,-1.4],[5992,0.9],[5994,2.1],[5996,-0.4],
  [5998,1.1],[6000,-1.6],[6002,2.28],[6004,0.6],[6006,1.6],[6008,-0.9],[6010,0.3],[6012,1.8],[6014,-1.3],[6016,1.0],
  [6018,2.3],[6020,-0.5],[6022,1.2],[6024,0.4],[6026,-1.7],[6028,1.5],[6030,0.7],[6032,-0.8],[6034,2.0],[6035,2.36],
  [6037,-1.1],[6039,0.9],[6041,1.6],[6043,-0.3],[6045,1.1],[6047,-1.5],[6049,0.5],[6051,1.9],[6053,-0.6],[6055,1.3],
  [6057,-1.9],[6059,0.2],[6061,1.7],[6063,-0.9],[6064,3.25],[6066,0.8],[6068,-1.2],[6070,1.4],[6072,0.1],[6074,2.1],
  [6076,-0.7],[6078,1.0],[6080,-1.4],[6082,0.6],[6084,1.8],[6086,2.9],[6088,-0.4],[6090,1.2],[6092,-1.0],[6094,0.4],
  [6096,1.5],[6098,-1.6],[6100,0.9],[6102,2.2],[6104,-0.6],[6106,1.3],[6108,0.2],[6110,-1.3],[6112,1.7],[6114,0.5],
  [6116,-0.9],[6118,1.1],[6120,2.4],[6122,-1.5],[6124,0.7],[6126,1.6],[6128,-0.2],[6130,1.0],[6132,-1.8],[6133,-2.79],
  [6135,0.4],[6137,1.9],[6139,-0.7],[6141,1.2],[6143,0.0],[6145,-1.4],[6147,1.5],[6149,0.8],[6151,-0.5],[6153,2.0],
  [6155,-1.1],[6157,0.6],[6159,1.4],[6160,2.81],[6162,-0.8],[6164,1.0],[6166,-1.6],[6168,0.3],[6170,1.8],[6172,-0.4],
  [6174,1.1],[6176,-1.2],[6178,0.7],[6180,1.6],[6181,3.02],[6184,3.61],[6186,-0.9],[6188,1.3],[6190,0.2],[6192,-1.5],
  [6194,0.9],[6195,-2.88],[6197,1.7],[6199,-0.3],[6201,1.2],[6203,-1.0],[6205,0.5],[6207,1.9],[6209,-0.6],[6211,1.1],
  [6213,2.93],[6215,-1.3],[6217,2.45],[6219,0.4],[6221,1.5],[6223,-0.8],[6225,0.9],[6227,-1.7],[6229,1.3],[6231,0.1],
  [6233,-1.1],[6235,1.7],[6237,0.6],[6239,-0.5],[6241,-2.61],[6243,1.0],[6245,-1.4],[6247,0.7],[6249,1.8],[6251,-0.3],
  [6253,1.2],[6255,-1.8],[6257,0.4],[6259,1.4],[6261,-0.7],[6263,0.9],[6265,-1.2],[6267,1.6],[6269,0.2],[6271,-0.9],
  [6273,1.1],[6276,1.74],[6278,-1.5],[6280,0.6],[6282,1.3],[6284,-0.4],[6286,0.8],[6288,-1.9],[6290,1.0],[6292,0.3],
  [6294,-1.1],[6296,1.5],[6298,-0.6],[6300,0.7],[6302,-1.4],[6304,1.2],[6306,0.1],[6308,-0.8],[6310,1.6],[6312,-1.6],
  [6314,0.5],[6316,1.0],[6318,-0.4],[6320,1.4],[6322,-1.2],[6324,0.3],[6326,0.9],[6328,-1.9],[6330,1.2],[6332,-0.3],
  [6334,0.6],[6336,-1.0],[6338,1.5],[6340,-0.7],[6342,0.2],[6344,1.1],[6346,-1.5],[6347,-2.17],[6349,0.8],[6351,-0.5],
  [6353,1.3],[6355,-1.2],[6357,0.4],[6359,0.9],[6361,-2.44],[6363,-0.8],[6365,1.2],[6367,0.0],[6369,-1.6],[6371,0.7],
  [6373,1.4],[6375,-0.9],[6377,0.5],[6379,-1.3],[6381,1.0],[6383,-0.2],[6385,0.8],[6387,-1.7],[6389,1.3],[6391,0.3],
  [6393,-0.6],[6395,1.1],[6397,-1.1],[6398,2.36],[6400,0.4],[6402,-0.8],[6404,1.2],[6406,-1.5],[6408,0.6],[6410,1.0],
  [6412,-0.4],[6414,0.9],[6416,-1.9],[6418,0.3],[6420,1.3],[6422,-0.9],[6424,0.5],[6426,-1.3],[6428,1.1],[6430,-0.2],
  [6432,0.7],[6434,-1.6],[6436,1.4],[6438,0.1],[6440,-1.0],[6442,0.8],[6444,-0.5],[6446,1.2],[6448,-1.8],[6450,0.4],
  [6452,0.9],[6454,-1.2],[6456,0.2],[6458,1.5],[6460,-0.7],[6462,0.6],[6464,-1.4],[6466,1.0],[6468,-0.1],[6470,0.8],
  [6472,-2.0],[6474,0.3],[6476,1.2],[6478,-0.9],[6480,0.5],[6482,-1.5],[6484,0.9],[6486,-0.3],[6489,1.3],[6491,-1.1],
  [6493,0.2],[6495,0.7],[6497,-1.7],[6499,0.4],[6501,-0.6],[6503,1.0],[6505,-1.3],[6507,0.3],[6509,-2.0],[6511,0.8],
  [6513,-0.9],[6515,0.5],[6516,-2.52],[6518,-1.2],[6520,0.9],[6522,-0.4],[6524,-1.7],[6526,0.6],[6528,-0.8],[6530,1.1],
  [6532,-1.5],[6534,0.2],[6536,-1.0],[6538,0.7],[6540,-2.0],[6542,-0.3],[6543,-2.61],[6545,0.9],[6547,-1.2],[6549,0.4],
  [6551,-0.7],[6553,-1.6],[6555,0.6],[6557,-0.5],[6564,-0.9],[6570,0.7],[6576,-1.4],[6584,0.3],[6592,-0.6],[6600,1.0],
  [6606,-1.1],[6612,0.5],[6616,-2.0],[6619,-2.17],[6622,-0.4],[6625,-1.3],[6627,0.6],[6629,-0.9],[6631,-2.0],[6633,0.2],
  [6635,-1.5],[6637,-0.6],[6639,0.9],[6641,-1.1],[6643,-0.2],[6645,-1.8],[6647,0.4],[6649,-0.8],[6651,-1.3],[6653,0.7],
  [6655,-0.4],[6657,-1.6],[6659,0.1],[6661,-1.0],[6663,-0.5],[6665,-1.9],[6667,0.3],[6668,-2.52],[6672,-0.7],[6680,0.5],
  [6690,-1.2],[6700,0.2],[6710,-0.3],[6722,0.6],[6726,-1.0],[6728,0.3],[6730,1.2],[6732,-0.5],[6734,0.8],[6736,-1.4],
  [6738,0.4],[6740,1.6],[6742,-0.8],[6744,0.2],[6746,1.1],[6748,-1.2],[6750,0.6],[6752,-0.3],[6754,1.4],[6756,-1.6],
  [6758,0.9],[6760,0.0],[6762,1.0],[6764,-0.9],[6766,0.5],[6768,1.7],[6770,-0.4],[6772,0.8],[6774,-1.3],[6776,0.3],
  [6778,1.2],[6780,-0.7],[6782,0.6],[6784,-1.8],[6786,1.1],[6788,0.2],[6790,-0.9],[6792,1.4],[6794,-0.3],[6796,0.7],
  [6798,-1.2],[6800,0.9],[6802,1.8],[6804,-0.6],[6806,0.4],[6808,-1.1],[6810,1.3],[6812,0.1],[6814,-1.5],[6816,0.9],
  [6818,-0.2],[6820,1.5],[6822,-0.8],[6824,0.5],[6826,1.1],[6828,-1.3],[6830,0.6],[6831,2.72],[6833,-0.4],[6835,1.2],
  [6837,-0.9],[6839,0.3],[6841,1.6],[6843,-1.1],[6845,0.7],[6847,-0.5],[6849,1.0],[6851,-1.7],[6853,0.4],[6856,-0.6],
  [6962,0.8],[6964,-0.6],[6966,1.3],[6968,2.19],[6970,-1.1],[6972,0.4],[6974,1.5],[6976,-0.8],[6978,0.2],[6980,1.8],
  [6982,-1.4],[6984,0.6],[6986,-0.3],[6988,1.1],[6990,-1.7],[6992,0.5],[6994,1.4],[6996,-0.6],[6998,0.9],[7000,-1.2],
  [7002,1.6],[7004,0.1],[7006,-0.9],[7008,1.2],[7010,-0.2],[7011,3.16],[7013,0.7],[7015,-1.5],[7017,1.0],[7019,-0.4],
  [7021,1.9],[7023,-1.0],[7025,0.3],[7027,1.3],[7029,-0.7],[7031,0.8],[7033,-1.8],[7035,0.5],[7037,1.1],[7039,-0.3],
  [7041,1.4],[7043,-1.2],[7045,0.6],[7047,-0.5],[7049,1.0],[7052,-1.0],[7055,0.4],[7130,0.5],[7131,-2.52],[7133,1.3],
  [7135,-0.7],[7137,0.9],[7139,1.8],[7141,-1.2],[7143,0.3],[7145,1.1],[7147,-1.6],[7149,0.6],[7151,1.5],[7153,-0.4],
  [7155,0.8],[7157,-1.9],[7158,-3.5],[7160,1.2],[7162,0.0],[7164,-1.1],[7166,1.7],[7168,0.4],[7170,-0.8],[7172,1.3],
  [7174,2.2],[7176,-1.4],[7177,3.34],[7179,0.7],[7181,-0.5],[7183,1.6],[7185,-1.0],[7187,0.9],[7189,2.0],[7191,-1.7],
  [7193,0.3],[7195,1.2],[7197,-0.6],[7199,1.9],[7201,0.5],[7203,-1.3],[7205,1.0],[7207,2.3],[7209,-0.2],[7211,0.8],
  [7213,-1.5],[7215,1.4],[7217,0.2],[7219,2.1],[7221,-0.9],[7223,0.6],[7225,1.7],[7227,-1.2],[7229,0.4],[7231,2.4],
  [7233,-0.4],[7234,3.08],[7236,1.1],[7238,-1.6],[7240,0.7],[7242,1.5],[7244,-0.8],[7246,0.3],[7248,1.8],[7250,-1.3],
  [7252,0.9],[7254,2.0],[7256,-0.5],[7258,1.2],[7260,-1.9],[7261,-3.15],[7263,0.6],[7265,1.4],[7267,-0.9],[7269,0.2],
  [7271,1.7],[7273,-1.4],[7275,0.8],[7277,-0.3],[7278,-3.29],[7280,1.3],[7282,-1.1],[7283,3.16],[7285,0.5],[7287,1.9],
  [7289,-0.6],[7291,1.0],[7293,-1.7],[7295,0.4],[7297,1.5],[7299,-0.8],[7301,0.9],[7303,-1.3],[7305,0.1],[7307,1.6],
  [7309,-0.5],[7311,0.7],[7313,-2.0],[7315,1.2],[7316,-2.35],[7318,0.3],[7320,1.4],[7322,-0.9],[7324,0.8],[7326,-1.5],
  [7328,1.1],[7330,0.0],[7332,1.9],[7334,-1.1],[7336,0.6],[7338,-0.4],[7340,1.3],[7342,-1.8],[7344,0.5],[7346,1.0],
  [7348,-0.7],[7350,1.7],[7352,-1.2],[7354,0.4],[7356,1.2],[7358,-0.3],[7360,0.9],[7362,-1.6],[7364,1.5],[7366,0.2],
  [7368,-0.9],[7370,3.02],[7372,1.1],[7374,-1.3],[7376,0.6],[7378,1.8],[7380,-0.5],[7382,0.8],[7384,-1.4],[7386,1.2],
  [7388,0.3],[7390,-1.0],[7392,1.6],[7394,-0.6],[7396,0.7],[7398,-1.2]
];

const zeroLine = [[4050, 0], [7400, 0]];

const SANS = '"Liberation Sans", Arial, Helvetica, sans-serif';
const toXY = (pairs) => pairs.map(([x, y]) => ({ x, y }));

// hollow diamond used for the residual points
function diamondMark(color) {
  const c = document.createElement('canvas');
  c.width = 12; c.height = 14;
  const g = c.getContext('2d');
  g.strokeStyle = color;
  g.lineWidth = 2.2;
  g.beginPath();
  g.moveTo(6, 1.3); g.lineTo(10.7, 7); g.lineTo(6, 12.7); g.lineTo(1.3, 7);
  g.closePath();
  g.stroke();
  return c;
}

// draws text squeezed/stretched to a given width
function fitText(ctx, text, left, baseline, width, font, color) {
  ctx.save();
  ctx.font = font;
  ctx.fillStyle = color;
  ctx.textAlign = 'left';
  ctx.textBaseline = 'alphabetic';
  const w = ctx.measureText(text).width;
  ctx.translate(left, baseline);
  ctx.scale(width / w, 1);
  ctx.fillText(text, 0, 0);
  ctx.restore();
}

// IDL-style frames, inward ticks, y labels and annotations
const panelAxes = {
  id: 'panelAxes',
  beforeDatasetDraw(chart, args) {
    const ys = chart.scales[args.meta.yAxisID];
    const a = chart.chartArea;
    chart.ctx.save();
    chart.ctx.beginPath();
    chart.ctx.rect(a.left, ys.top, a.right - a.left, ys.bottom - ys.top);
    chart.ctx.clip();
  },
  afterDatasetDraw(chart) {
    chart.ctx.restore();
  },
  afterDraw(chart) {
    const { ctx, chartArea: a, scales } = chart;
    const x = scales.x, yf = scales.yFlux, yr = scales.yResid;
    ctx.save();
    ctx.strokeStyle = '#000';
    ctx.lineWidth = 2;
    ctx.strokeRect(a.left, yf.top, a.right - a.left, yf.bottom - yf.top);
    ctx.strokeRect(a.left, yr.top, a.right - a.left, yr.bottom - yr.top);

    const seg = (x1, y1, x2, y2) => { ctx.moveTo(x1, y1); ctx.lineTo(x2, y2); };
    ctx.lineWidth = 1.8;
    ctx.beginPath();
    for (let w = 4100; w <= waveRange[1]; w += 100) {
      const px = x.getPixelForValue(w);
      const major = xTickLabels.includes(w);
      const big = major ? 13 : 6.5;
      const small = major ? 5 : 2.5;
      seg(px, yf.top, px, yf.top + big);
      seg(px, yf.bottom, px, yf.bottom - big);
      seg(px, yr.top, px, yr.top + small);
      seg(px, yr.bottom, px, yr.bottom - small);
    }
    for (let v = fluxRange[0]; v <= fluxRange[1]; v += 4) {
      const py = yf.getPixelForValue(v);
      const len = fluxTickLabels.includes(v) ? 42 : 21;
      seg(a.left, py, a.left + len, py);
      seg(a.right, py, a.right - len, py);
    }
    ctx.stroke();

    // tick labels, kept inside their panel
    ctx.font = '53px ' + SANS;
    ctx.fillStyle = '#111';
    ctx.textAlign = 'right';
    ctx.textBaseline = 'alphabetic';
    const label = (scale, v) => {
      let base = scale.getPixelForValue(v) + 27;
      base = Math.min(Math.max(base, scale.top + 47), scale.bottom + 1);
      ctx.fillText(String(v), a.left - 22, base);
    };
    fluxTickLabels.forEach(v => label(yf, v));
    residTickLabels.forEach(v => label(yr, v));

    // rotated axis titles
    ctx.font = '55px ' + SANS;
    ctx.textAlign = 'center';
    ctx.save();
    ctx.translate(59, (yf.top + yf.bottom) / 2 + 2);
    ctx.rotate(-Math.PI / 2);
    ctx.fillText('Flux (arbitrary units)', 0, 0);
    ctx.restore();
    ctx.save();
    ctx.translate(103, (yr.top + yr.bottom) / 2);
    ctx.rotate(-Math.PI / 2);
    ctx.fillText('Residual', 0, 0);
    ctx.restore();

    // annotations
    fitText(ctx, 'Data spectrum', 1033, 214, 554, '300 96px Lato, "Noto Sans", sans-serif', '#000');
    fitText(ctx, 'Fitted Galaxy Contribution', 1354, 550, 888, '300 77px Lato, "Noto Sans", sans-serif', '#ee3535');
    fitText(ctx, 'Error Spectrum', 1777, 864, 515, '300 78px "Open Sans", "Noto Sans", sans-serif', '#1565c4');
    fitText(ctx, '(a)', 2175, 102, 62, '54px ' + SANS, '#333');
    ctx.restore();
  }
};

const chart = new Chart(document.getElementById('spec'), {
  type: 'line',
  data: {
    datasets: [
      {
        label: 'Galaxy model', data: toXY(galaxyModel), yAxisID: 'yFlux', order: 1,
        borderColor: '#ff0000', borderWidth: 3.8, pointRadius: 0, tension: 0, spanGaps: false
      },
      {
        label: 'Data', data: toXY(dataSpectrum), yAxisID: 'yFlux', order: 2,
        borderColor: '#000000', borderWidth: 2.3, pointRadius: 0, tension: 0
      },
      {
        label: 'Error +', data: toXY(errorSpectrum), yAxisID: 'yResid', order: 3,
        borderColor: '#0000ff', borderWidth: 1.3, pointRadius: 0, tension: 0
      },
      {
        label: 'Error -', data: toXY(errorSpectrum.map(([w, s]) => [w, -s])), yAxisID: 'yResid', order: 3,
        borderColor: '#0000ff', borderWidth: 1.3, pointRadius: 0, tension: 0
      },
      {
        label: 'Zero', data: toXY(zeroLine), yAxisID: 'yResid', order: 4,
        borderColor: '#000000', borderWidth: 2, borderDash: [24, 26], pointRadius: 0
      },
      {
        label: 'Residual', data: toXY(residuals), yAxisID: 'yResid', order: 5,
        showLine: false, pointStyle: diamondMark('#00ff00'), pointRadius: 5
      }
    ]
  },
  options: {
    responsive: true,
    maintainAspectRatio: false,
    devicePixelRatio: 1,
    animation: false,
    events: [],
    layout: { padding: { left: 0, right: 12, top: 12, bottom: 0 } },
    plugins: { legend: { display: false }, tooltip: { enabled: false } },
    scales: {
      x: {
        type: 'linear', position: 'bottom', min: waveRange[0], max: waveRange[1],
        afterBuildTicks: (s) => { s.ticks = xTickLabels.map(v => ({ value: v })); },
        afterFit: (s) => { s.height = 198; },
        grid: { display: false, drawTicks: false },
        border: { display: false },
        ticks: {
          autoSkip: false, maxRotation: 0, padding: 53, color: '#111',
          font: { size: 53, family: SANS },
          callback: (v) => String(v)
        },
        title: {
          display: true, text: 'Wavelength (Å)', color: '#111',
          font: { size: 55, family: SANS }, padding: 0
        }
      },
      yFlux: {
        type: 'linear', position: 'left', stack: 'panels', stackWeight: 631, weight: 1,
        min: fluxRange[0], max: fluxRange[1],
        afterFit: (s) => { s.width = 235; },
        grid: { display: false }, border: { display: false }, ticks: { display: false }
      },
      yResid: {
        type: 'linear', position: 'left', stack: 'panels', stackWeight: 225, weight: 0,
        min: residRange[0], max: residRange[1],
        afterFit: (s) => { s.width = 235; },
        grid: { display: false }, border: { display: false }, ticks: { display: false }
      }
    }
  },
  plugins: [panelAxes]
});
</script>
</body>
</html>
